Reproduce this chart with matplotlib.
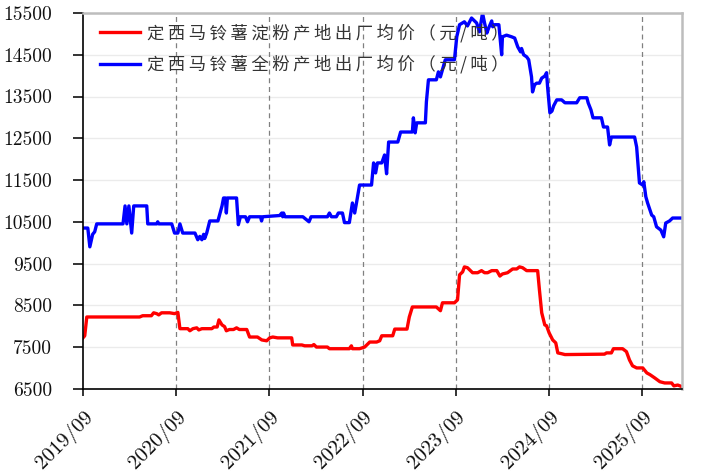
#!/usr/bin/env python3
"""定西马铃薯淀粉 / 全粉 产地出厂均价"""

import pandas as pd
import matplotlib.pyplot as plt
import matplotlib.dates as mdates

# 定西马铃薯淀粉产地出厂均价 (元/吨)
starch_dates = [
    "2019-09-01", "2019-09-08", "2019-09-16", "2020-04-10", "2020-04-22", "2020-05-26",
    "2020-06-04", "2020-06-16", "2020-06-24", "2020-07-05", "2020-08-06", "2020-08-25",
    "2020-09-07", "2020-09-15", "2020-10-16", "2020-10-24", "2020-11-05", "2020-11-20",
    "2020-11-28", "2020-12-10", "2021-01-18", "2021-01-26", "2021-02-08", "2021-02-15",
    "2021-02-27", "2021-03-09", "2021-03-16", "2021-03-28", "2021-04-13", "2021-04-25",
    "2021-05-06", "2021-06-04", "2021-06-15", "2021-07-16", "2021-08-02", "2021-08-21",
    "2021-09-02", "2021-09-14", "2021-10-03", "2021-10-19", "2021-11-27", "2021-12-01",
    "2022-01-06", "2022-01-17", "2022-02-15", "2022-02-22", "2022-03-04", "2022-04-16",
    "2022-04-24", "2022-07-11", "2022-07-19", "2022-07-23", "2022-08-20", "2022-09-09",
    "2022-09-29", "2022-10-26", "2022-11-07", "2022-11-15", "2022-12-28", "2023-01-05",
    "2023-02-22", "2023-03-03", "2023-03-15", "2023-06-17", "2023-07-03", "2023-07-11",
    "2023-08-27", "2023-09-08", "2023-09-16", "2023-09-28", "2023-10-05", "2023-10-17",
    "2023-11-06", "2023-11-26", "2023-12-11", "2023-12-23", "2024-01-04", "2024-01-20",
    "2024-02-09", "2024-02-21", "2024-03-02", "2024-03-22", "2024-04-11", "2024-04-27",
    "2024-05-08", "2024-05-20", "2024-06-05", "2024-07-18", "2024-07-25", "2024-08-03",
    "2024-08-15", "2024-08-22", "2024-09-01", "2024-09-15", "2024-09-27", "2024-10-05",
    "2024-10-20", "2024-11-02", "2025-04-06", "2025-04-14", "2025-05-03", "2025-05-11",
    "2025-06-16", "2025-07-01", "2025-07-13", "2025-07-25", "2025-08-10", "2025-09-03",
    "2025-09-19", "2025-10-01", "2025-10-20", "2025-11-09", "2025-11-28", "2025-12-25",
    "2026-01-03", "2026-01-18", "2026-02-04",
]
starch_prices = [
    7720, 7770, 8220, 8220, 8250, 8250,
    8320, 8300, 8270, 8320, 8320, 8300,
    8330, 7940, 7940, 7890, 7940, 7960,
    7910, 7940, 7940, 7980, 7980, 8150,
    8030, 7990, 7890, 7920, 7920, 7960,
    7920, 7920, 7740, 7740, 7670, 7650,
    7720, 7740, 7720, 7720, 7720, 7550,
    7550, 7530, 7530, 7560, 7500, 7500,
    7460, 7460, 7530, 7460, 7460, 7500,
    7620, 7620, 7650, 7770, 7770, 7930,
    7930, 8220, 8460, 8460, 8370, 8560,
    8560, 8630, 9230, 9300, 9420, 9400,
    9280, 9280, 9330, 9280, 9280, 9330,
    9330, 9200, 9250, 9280, 9370, 9370,
    9420, 9400, 9330, 9330, 8870, 8320,
    8030, 8010, 7840, 7670, 7600, 7360,
    7340, 7320, 7330, 7360, 7360, 7460,
    7460, 7390, 7190, 7050, 7000, 7000,
    6880, 6840, 6760, 6670, 6640, 6640,
    6570, 6590, 6550,
]

# 定西马铃薯全粉产地出厂均价 (元/吨)
flour_dates = [
    "2019-09-01", "2019-09-20", "2019-09-28", "2019-10-09", "2019-10-17", "2019-10-25",
    "2020-02-05", "2020-02-13", "2020-02-20", "2020-02-28", "2020-03-10", "2020-03-18",
    "2020-05-08", "2020-05-12", "2020-06-16", "2020-06-20", "2020-06-24", "2020-08-14",
    "2020-08-25", "2020-09-07", "2020-09-15", "2020-09-26", "2020-11-13", "2020-11-24",
    "2020-12-02", "2020-12-10", "2020-12-17", "2020-12-21", "2020-12-29", "2021-01-10",
    "2021-02-11", "2021-02-27", "2021-03-05", "2021-03-12", "2021-03-16", "2021-03-20",
    "2021-04-25", "2021-05-02", "2021-05-10", "2021-05-30", "2021-06-07", "2021-06-15",
    "2021-07-28", "2021-08-01", "2021-08-05", "2021-10-11", "2021-10-19", "2021-10-23",
    "2021-10-26", "2021-11-01", "2022-01-10", "2022-02-03", "2022-02-11", "2022-04-16",
    "2022-04-24", "2022-05-02", "2022-05-21", "2022-05-29", "2022-06-14", "2022-06-22",
    "2022-07-11", "2022-07-23", "2022-08-01", "2022-08-08", "2022-08-20", "2022-10-06",
    "2022-10-14", "2022-10-22", "2022-10-29", "2022-11-15", "2022-11-26", "2022-12-04",
    "2022-12-12", "2023-01-17", "2023-01-28", "2023-03-15", "2023-03-19", "2023-03-26",
    "2023-04-01", "2023-05-05", "2023-05-09", "2023-05-17", "2023-06-17", "2023-06-25",
    "2023-07-03", "2023-07-11", "2023-07-22", "2023-08-27", "2023-09-05", "2023-09-16",
    "2023-10-05", "2023-10-17", "2023-11-02", "2023-11-22", "2023-12-03", "2023-12-15",
    "2023-12-23", "2024-01-01", "2024-01-08", "2024-01-20", "2024-01-24", "2024-02-01",
    "2024-02-17", "2024-02-28", "2024-03-02", "2024-03-18", "2024-04-07", "2024-04-19",
    "2024-05-01", "2024-05-12", "2024-05-16", "2024-05-24", "2024-06-05", "2024-06-13",
    "2024-06-24", "2024-06-28", "2024-07-06", "2024-07-14", "2024-07-25", "2024-08-03",
    "2024-08-15", "2024-08-22", "2024-08-26", "2024-09-04", "2024-09-12", "2024-09-19",
    "2024-10-01", "2024-10-20", "2024-11-02", "2024-12-18", "2024-12-30", "2025-01-27",
    "2025-02-01", "2025-02-12", "2025-02-20", "2025-03-25", "2025-04-02", "2025-04-18",
    "2025-04-26", "2025-05-03", "2025-08-02", "2025-08-10", "2025-08-21", "2025-09-03",
    "2025-09-07", "2025-09-15", "2025-09-22", "2025-10-08", "2025-10-16", "2025-10-27",
    "2025-11-13", "2025-11-24", "2025-12-02", "2025-12-17", "2025-12-29", "2026-02-04",
]
flour_prices = [
    10350, 10350, 9900, 10200, 10260, 10450,
    10450, 10880, 10450, 10880, 10230, 10880,
    10880, 10450, 10450, 10500, 10450, 10450,
    10230, 10230, 10450, 10230, 10230, 10070,
    10150, 10070, 10200, 10100, 10230, 10520,
    10520, 10880, 11070, 11070, 10710, 11070,
    11070, 10430, 10620, 10620, 10500, 10620,
    10620, 10520, 10620, 10650, 10710, 10620,
    10710, 10620, 10620, 10500, 10620, 10620,
    10710, 10620, 10620, 10710, 10710, 10480,
    10480, 10950, 10710, 10950, 11380, 11380,
    11910, 11670, 11910, 11910, 12100, 11650,
    12410, 12410, 12650, 12650, 12990, 12630,
    12870, 12870, 13370, 13900, 13900, 14090,
    13970, 14140, 14380, 14380, 14930, 15220,
    15290, 15190, 15380, 15260, 15050, 15500,
    15260, 15020, 15140, 15310, 15170, 15220,
    15220, 14500, 14930, 14970, 14930, 14900,
    14690, 14570, 14650, 14500, 14450, 14380,
    13970, 13610, 13780, 13820, 13820, 13940,
    13990, 14070, 13730, 13110, 13150, 13280,
    13420, 13420, 13350, 13350, 13470, 13470,
    13350, 13180, 12990, 12990, 12770, 12770,
    12340, 12530, 12530, 12290, 11430, 11380,
    11460, 11100, 10950, 10660, 10620, 10380,
    10300, 10140, 10470, 10520, 10590, 10590,
]

series_labels = ["定西马铃薯淀粉产地出厂均价（元/吨）", "定西马铃薯全粉产地出厂均价（元/吨）"]
y_ticks = list(range(6500, 15501, 1000))
x_tick_dates = ["2019-09-01", "2020-09-01", "2021-09-01", "2022-09-01",
                "2023-09-01", "2024-09-01", "2025-09-01"]


def spaced(s):
    # the legend text in the original has loose letter spacing
    return "\u2009".join(s)


def main():
    fig = plt.figure(figsize=(7.09, 4.73), dpi=100)
    ax = fig.add_axes([0.117, 0.178, 0.845, 0.7945])

    starch = pd.Series(starch_prices, index=pd.to_datetime(starch_dates))
    flour = pd.Series(flour_prices, index=pd.to_datetime(flour_dates))
    ticks = pd.to_datetime(x_tick_dates)

    # grid
    for t in y_ticks:
        ax.axhline(t, color="#ebebeb", lw=1.0, zorder=0)
    for t in ticks[1:]:
        ax.axvline(t, color="#808080", lw=0.9, ls=(0, (4, 3)), zorder=0)

    ax.plot(starch.index, starch.values, color="#ff0000", lw=2.4,
            solid_joinstyle="round", label=spaced(series_labels[0]))
    ax.plot(flour.index, flour.values, color="#0000ff", lw=2.4,
            solid_joinstyle="round", label=spaced(series_labels[1]))

    ax.set_xlim(pd.Timestamp("2019-09-01"), pd.Timestamp("2026-02-04"))
    ax.set_ylim(6500, 15500)
    ax.set_yticks(y_ticks)
    ax.set_xticks(ticks)
    ax.xaxis.set_major_formatter(mdates.DateFormatter("%Y/%m"))

    ax.tick_params(axis="y", direction="out", length=7, width=1.2, colors="#111111", pad=15)
    ax.tick_params(axis="x", direction="out", length=5, width=1.2, colors="#111111", pad=8)

    for lab in ax.get_yticklabels():
        lab.set_fontfamily("cmr10")
        lab.set_fontsize(14)
    for lab in ax.get_xticklabels():
        lab.set_fontfamily("cmr10")
        lab.set_fontsize(15)
        lab.set_rotation(45)
        lab.set_ha("right")
        lab.set_va("top")
        lab.set_rotation_mode("anchor")

    for side in ("top", "right"):
        ax.spines[side].set_color("#bdbdbd")
        ax.spines[side].set_linewidth(1.8)
    ax.spines["left"].set_color("black")
    ax.spines["left"].set_linewidth(1.2)
    ax.spines["bottom"].set_color("black")
    ax.spines["bottom"].set_linewidth(1.2)

    leg = ax.legend(loc="upper left", bbox_to_anchor=(0.002, 1.013), frameon=False,
                    handlelength=2.3, handletextpad=0.4, labelspacing=0.74,
                    prop={"family": ["Noto Sans CJK SC", "DejaVu Sans"], "size": 12.5,
                          "weight": "light"})
    for txt in leg.get_texts():
        txt.set_color("#333333")

    fig.savefig("out.png", dpi=100)
    print("saved out.png")


if __name__ == "__main__":
    main()
